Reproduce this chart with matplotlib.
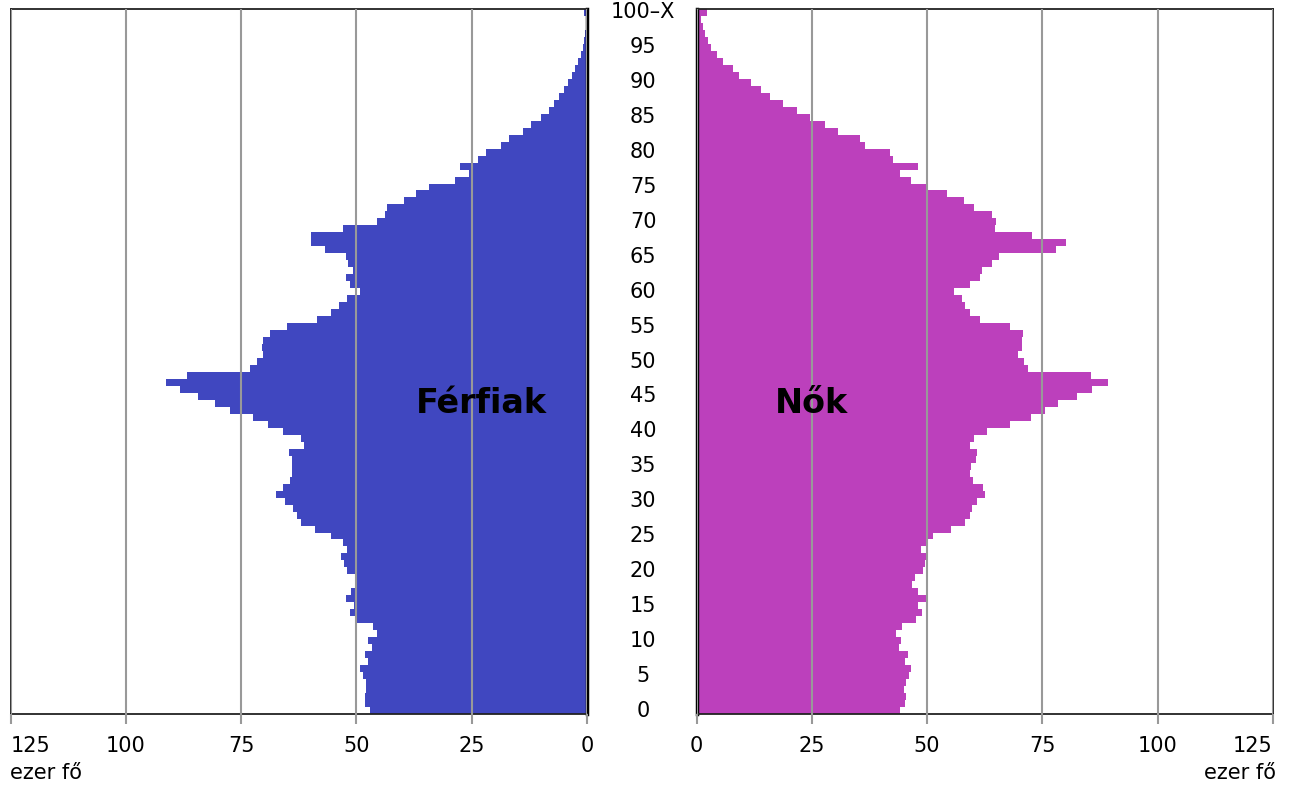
import matplotlib.pyplot as plt
import matplotlib.transforms as mtransforms
import numpy as np

# korév (0 ... 100-X)
ages = np.arange(0, 101)

# férfiak, ezer fő
men = [47.0, 48.1, 48.1, 47.9, 47.9, 48.5, 49.2, 47.5, 48.1, 46.6,
       47.5, 45.5, 46.4, 49.8, 51.4, 50.5, 52.2, 51.2, 50.0, 50.0,
       52.0, 52.7, 53.3, 52.0, 52.9, 55.5, 59.0, 62.0, 62.9, 63.8,
       65.5, 67.4, 65.9, 64.4, 64.0, 64.0, 64.0, 64.6, 61.4, 62.0,
       65.9, 69.2, 72.4, 77.4, 80.6, 84.4, 88.3, 91.3, 86.7, 73.1,
       71.5, 70.2, 70.4, 70.2, 68.7, 65.0, 58.5, 55.5, 53.7, 52.0,
       49.2, 51.4, 52.2, 50.7, 51.8, 52.2, 56.8, 59.8, 59.8, 52.9,
       45.5, 43.8, 43.3, 39.6, 37.0, 34.2, 28.6, 25.5, 27.5, 23.6,
       21.9, 18.6, 16.9, 13.8, 12.1, 9.9, 8.2, 7.1, 6.05, 4.97,
       4.1, 3.2, 2.5, 1.88, 1.23, 0.87, 0.58, 0.36, 0.25, 0.2,
       0.72]

# nők, ezer fő
women = [44.1, 45.2, 45.4, 45.0, 45.4, 46.1, 46.5, 45.2, 45.9, 43.9,
         44.3, 43.3, 44.6, 47.6, 48.9, 48.0, 49.8, 48.0, 46.7, 47.4,
         49.1, 49.6, 49.8, 48.7, 50.2, 51.3, 55.2, 58.2, 59.3, 59.7,
         60.8, 62.6, 62.2, 60.0, 59.3, 59.5, 60.6, 60.8, 59.3, 60.2,
         63.0, 68.0, 72.5, 75.5, 78.5, 82.5, 85.8, 89.3, 85.5, 72.0,
         71.0, 69.7, 70.7, 70.7, 70.8, 68.0, 61.5, 59.3, 58.2, 57.6,
         55.8, 59.3, 61.5, 61.9, 64.1, 65.6, 78.0, 80.2, 72.8, 64.7,
         64.9, 64.1, 60.2, 58.0, 54.3, 50.0, 46.5, 44.1, 48.0, 42.6,
         41.9, 36.5, 35.4, 30.7, 27.8, 24.6, 21.8, 18.7, 15.9, 14.0,
         11.8, 9.2, 7.9, 5.7, 4.4, 3.1, 2.45, 1.8, 1.37, 0.93,
         2.2]

xticks = [0, 25, 50, 75, 100, 125]
yticks = list(range(0, 101, 5))
ylabels = [str(t) for t in yticks[:-1]] + ['100–X']

men_color = '#4047C0'
women_color = '#BC40BC'
grid_color = '#999999'
fs = 15

fig = plt.figure(figsize=(12.89, 7.98), dpi=100)
axL = fig.add_axes([10.5 / 1289, 84 / 798, 576.5 / 1289, 705 / 798])
axR = fig.add_axes([696.7 / 1289, 84 / 798, 576.0 / 1289, 705 / 798])

for ax, vals, col in [(axL, men, men_color), (axR, women, women_color)]:
    ax.barh(ages, vals, height=1.0, color=col, edgecolor='none')
    ax.set_ylim(-0.5, 100.5)
    ax.set_yticks([])
    ax.set_xticks(xticks)
    ax.set_xticklabels([str(t) for t in xticks], fontsize=fs)
    ax.grid(axis='x', color=grid_color, linewidth=1.5)
    ax.set_axisbelow(False)
    ax.tick_params(axis='x', length=7, width=1.5, color=grid_color, pad=9)
    for s in ax.spines.values():
        s.set_color('#222222')
        s.set_linewidth(1.3)

axL.set_xlim(125, 0)
axR.set_xlim(0, 125)
axL.spines['right'].set_color('black')
axL.spines['right'].set_linewidth(2.5)
axR.spines['left'].set_color('black')
axR.spines['left'].set_linewidth(2.5)

# szélső címkék ne lógjanak ki
axL.get_xticklabels()[-1].set_ha('left')
axR.get_xticklabels()[-1].set_ha('right')

# korév címkék középen
trans = mtransforms.blended_transform_factory(fig.transFigure, axL.transData)
for t, lab in zip(yticks, ylabels):
    fig.text(643 / 1289, t, lab, transform=trans, ha='center', va='center',
             fontsize=fs)

axL.text(23, 44, 'Férfiak', ha='center', va='center', fontsize=24,
         fontweight='bold', color='black')
axR.text(25, 44, 'Nők', ha='center', va='center', fontsize=24,
         fontweight='bold', color='black')

fig.text(10 / 1289, 1 - 773 / 798, 'ezer fő', ha='left', va='center', fontsize=fs)
fig.text(1276 / 1289, 1 - 773 / 798, 'ezer fő', ha='right', va='center', fontsize=fs)

plt.savefig('out.png', dpi=100)
